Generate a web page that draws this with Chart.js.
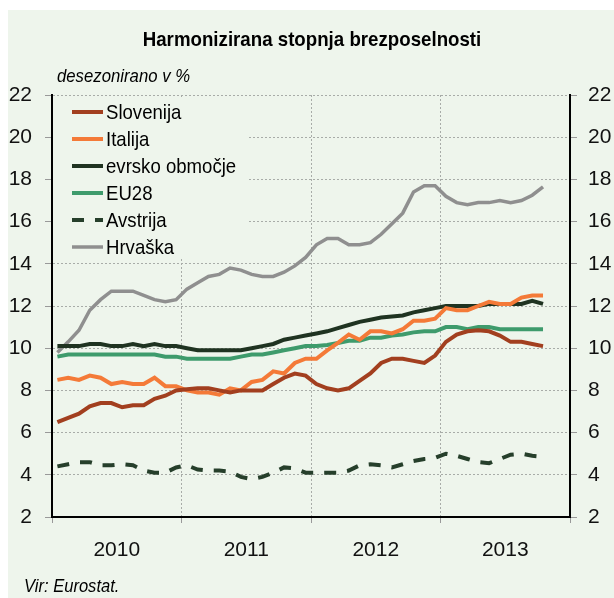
<!DOCTYPE html>
<html>
<head>
<meta charset="utf-8">
<script src="https://cdn.jsdelivr.net/npm/chart.js@4.4.0/dist/chart.umd.min.js"></script>
<style>
  html, body { margin: 0; padding: 0; background: #fff; }
  #wrap { width: 614px; height: 598px; }
</style>
</head>
<body>
<div id="wrap"><canvas id="chart" width="614" height="598"></canvas></div>
<script>
// monthly data, jan 2010 - oct 2013
const months = [
  '2010-01','2010-02','2010-03','2010-04','2010-05','2010-06','2010-07','2010-08','2010-09','2010-10','2010-11','2010-12',
  '2011-01','2011-02','2011-03','2011-04','2011-05','2011-06','2011-07','2011-08','2011-09','2011-10','2011-11','2011-12',
  '2012-01','2012-02','2012-03','2012-04','2012-05','2012-06','2012-07','2012-08','2012-09','2012-10','2012-11','2012-12',
  '2013-01','2013-02','2013-03','2013-04','2013-05','2013-06','2013-07','2013-08','2013-09','2013-10'
];
const years = ['2010', '2011', '2012', '2013'];
const yTicks = [2, 4, 6, 8, 10, 12, 14, 16, 18, 20, 22];

const slovenija = [6.5, 6.7, 6.9, 7.25, 7.4, 7.4, 7.2, 7.3, 7.3, 7.6, 7.75, 8.0,
  8.05, 8.1, 8.1, 8.0, 7.9, 8.0, 8.0, 8.0, 8.3, 8.6, 8.8, 8.7,
  8.3, 8.1, 8.0, 8.1, 8.45, 8.8, 9.3, 9.5, 9.5, 9.4, 9.3, 9.65,
  10.3, 10.65, 10.8, 10.85, 10.8, 10.6, 10.3, 10.3, 10.2, 10.1];
const italija = [8.5, 8.6, 8.5, 8.7, 8.6, 8.3, 8.4, 8.3, 8.3, 8.6, 8.2, 8.2,
  8.0, 7.9, 7.9, 7.8, 8.1, 8.0, 8.4, 8.5, 8.9, 8.8, 9.3, 9.5,
  9.5, 9.9, 10.25, 10.65, 10.4, 10.8, 10.8, 10.7, 10.9, 11.3, 11.3, 11.4,
  11.9, 11.8, 11.8, 12.0, 12.2, 12.1, 12.1, 12.4, 12.5, 12.5];
const evroObmocje = [10.1, 10.1, 10.1, 10.2, 10.2, 10.1, 10.1, 10.2, 10.1, 10.2, 10.1, 10.1,
  10.0, 9.9, 9.9, 9.9, 9.9, 9.9, 10.0, 10.1, 10.2, 10.4, 10.5, 10.6,
  10.7, 10.8, 10.95, 11.1, 11.25, 11.35, 11.45, 11.5, 11.55, 11.7, 11.8, 11.9,
  12.0, 12.0, 12.0, 12.0, 12.1, 12.1, 12.1, 12.1, 12.25, 12.1];
const eu28 = [9.6, 9.7, 9.7, 9.7, 9.7, 9.7, 9.7, 9.7, 9.7, 9.7, 9.6, 9.6,
  9.5, 9.5, 9.5, 9.5, 9.5, 9.6, 9.7, 9.7, 9.8, 9.9, 10.0, 10.1,
  10.1, 10.15, 10.25, 10.35, 10.35, 10.5, 10.5, 10.6, 10.65, 10.75, 10.8, 10.8,
  11.0, 11.0, 10.9, 11.0, 11.0, 10.9, 10.9, 10.9, 10.9, 10.9];
const avstrija = [4.4, 4.5, 4.6, 4.6, 4.45, 4.45, 4.5, 4.45, 4.2, 4.1, 4.1, 4.35,
  4.45, 4.25, 4.2, 4.2, 4.15, 3.9, 3.8, 3.9, 4.1, 4.35, 4.3, 4.1,
  4.1, 4.1, 4.1, 4.2, 4.45, 4.5, 4.45, 4.35, 4.5, 4.65, 4.75, 4.8,
  5.0, 4.9, 4.75, 4.6, 4.55, 4.75, 4.95, 5.0, 4.9, 4.85];
const hrvaska = [9.8, 10.3, 10.85, 11.8, 12.3, 12.7, 12.7, 12.7, 12.5, 12.3, 12.2, 12.3,
  12.8, 13.1, 13.4, 13.5, 13.8, 13.7, 13.5, 13.4, 13.4, 13.6, 13.9, 14.3,
  14.9, 15.2, 15.2, 14.9, 14.9, 15.0, 15.4, 15.9, 16.4, 17.4, 17.7, 17.7,
  17.2, 16.9, 16.8, 16.9, 16.9, 17.0, 16.9, 17.0, 17.25, 17.65];

const title = 'Harmonizirana stopnja brezposelnosti';
const unitNote = 'desezonirano v %';
const source = 'Vir: Eurostat.';

const FONT = "'Liberation Sans Narrow', 'Arial Narrow', 'Liberation Sans', Arial, sans-serif";
const BG = '#eef5ec';
const GRID = '#a8aca8';

Chart.defaults.font.family = FONT;
Chart.defaults.color = '#111';

// x = month index + 0.5 so each point sits in the middle of its month
function toPoints(values) {
  return values.map((v, i) => ({ x: i + 0.5, y: v, month: months[i] }));
}

function series(label, values, color, width, dash) {
  return {
    label: label,
    data: toPoints(values),
    borderColor: color,
    backgroundColor: color,
    borderWidth: width,
    borderDash: dash || [],
    pointRadius: 0,
    tension: 0,
    fill: false
  };
}

function yScale(pos, w, pad) {
  return {
    type: 'linear',
    position: pos,
    min: 2,
    max: 22,
    afterBuildTicks: s => { s.ticks = yTicks.map(v => ({ value: v })); },
    ticks: { font: { size: 21 }, padding: pad },
    grid: {
      drawOnChartArea: pos === 'left',
      color: GRID,
      tickColor: '#999',
      tickLength: 7,
      tickBorderDash: []
    },
    border: { color: '#000', width: 2, dash: [2, 2] },
    afterFit: s => { s.width = w; }
  };
}

// no narrow font installed, so squeeze the text a bit
function narrowText(ctx, text, x, y, sx) {
  ctx.save();
  ctx.translate(x, y);
  ctx.scale(sx, 1);
  ctx.fillText(text, 0, 0);
  ctx.restore();
}

// background, titles and the legend box
const decor = {
  id: 'decor',
  beforeDraw(chart) {
    const ctx = chart.ctx;
    ctx.save();
    ctx.fillStyle = BG;
    ctx.fillRect(8, 10, chart.width - 8, chart.height - 10);
    ctx.fillStyle = '#000';
    ctx.textBaseline = 'middle';
    ctx.textAlign = 'center';
    ctx.font = 'bold 21px ' + FONT;
    narrowText(ctx, title, 312, 40, 0.89);
    ctx.textAlign = 'left';
    ctx.font = 'italic 18px ' + FONT;
    narrowText(ctx, unitNote, 57, 77, 0.93);
    narrowText(ctx, source, 24, 587, 0.92);
    ctx.restore();
  },
  beforeDatasetsDraw(chart) {
    const ctx = chart.ctx;
    const left = chart.chartArea.left + 1;
    ctx.save();
    ctx.fillStyle = BG;
    ctx.fillRect(left, 97, 196, 161);
    ctx.font = '21px ' + FONT;
    ctx.textBaseline = 'middle';
    ctx.textAlign = 'left';
    chart.data.datasets.forEach((ds, i) => {
      const y = 112 + i * 27;
      ctx.strokeStyle = ds.borderColor;
      ctx.lineWidth = ds.borderWidth;
      ctx.setLineDash(ds.borderDash);
      ctx.beginPath();
      ctx.moveTo(72, y);
      ctx.lineTo(103, y);
      ctx.stroke();
      ctx.setLineDash([]);
      ctx.fillStyle = '#000';
      narrowText(ctx, ds.label, 106, y + 1, 0.885);
    });
    ctx.restore();
  }
};

new Chart(document.getElementById('chart'), {
  type: 'line',
  data: {
    datasets: [
      series('Slovenija', slovenija, '#a23f1f', 4),
      series('Italija', italija, '#f47a38', 4),
      series('evrsko območje', evroObmocje, '#1f3321', 4),
      series('EU28', eu28, '#3e9b6c', 4),
      series('Avstrija', avstrija, '#263f2b', 4, [12, 11]),
      series('Hrvaška', hrvaska, '#8f8f8f', 3.5)
    ]
  },
  options: {
    responsive: false,
    animation: false,
    layout: { padding: { top: 95, left: 0, right: 0, bottom: 0 } },
    plugins: {
      legend: { display: false },
      tooltip: { enabled: false },
      title: { display: false }
    },
    scales: {
      x: {
        type: 'linear',
        min: 0,
        max: 48,
        afterBuildTicks: s => {
          s.ticks = [0, 6, 12, 18, 24, 30, 36, 42, 48].map(v => ({ value: v }));
        },
        ticks: {
          autoSkip: false,
          maxRotation: 0,
          font: { size: 21 },
          padding: 15,
          callback: v => (v % 12 === 6 ? years[(v - 6) / 12] : '')
        },
        grid: {
          color: c => (c.tick && c.tick.value % 12 === 0 ? GRID : 'transparent'),
          tickColor: c => (c.tick && c.tick.value % 12 === 0 ? '#999' : 'transparent'),
          tickLength: 6,
          tickBorderDash: []
        },
        border: { color: '#000', width: 2, dash: [2, 2] },
        afterFit: s => { s.height = 81; }
      },
      y: yScale('left', 52, 13),
      y1: yScale('right', 44, 11)
    }
  },
  plugins: [decor]
});
</script>
</body>
</html>
